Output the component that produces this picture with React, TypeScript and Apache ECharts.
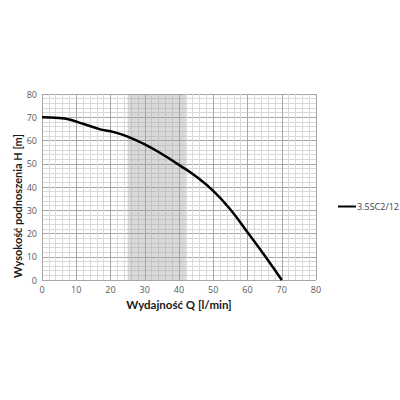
import { useEffect, useRef } from 'react'
import * as echarts from 'echarts'

// Pump curve
const flowQ = [0, 5, 8, 12, 17, 21, 25, 30, 35, 40, 45, 50, 55, 60, 65, 70]
const headH = [70, 69.7, 69, 67.2, 64.8, 63.6, 61.7, 58.3, 54.2, 49.5, 44.5, 38.3, 30.3, 20.5, 10.5, 0]
const bandQ = [25, 42]
const seriesName = '3.5SC2/12'
const yTitle = 'Wysokość podnoszenia H [m]'
const xTitle = 'Wydajność Q [l/min]'

export default function App() {
  const chartRef = useRef<HTMLDivElement>(null)

  useEffect(() => {
    document.body.style.margin = '0'
    if (!chartRef.current) return
    const chart = echarts.init(chartRef.current, null, { renderer: 'svg' })

    const axisCommon = {
      type: 'value' as const,
      interval: 10,
      axisLine: { show: false },
      axisTick: { show: false },
      axisLabel: { color: '#595959', fontSize: 9, fontFamily: 'Open Sans', margin: 5 },
      splitLine: { show: true, lineStyle: { color: '#a6a6a6', width: 1 } },
      minorTick: { show: false, splitNumber: 5 },
      minorSplitLine: { show: true, lineStyle: { color: '#d9d9d9', width: 1 } },
      nameLocation: 'middle' as const,
    }

    chart.setOption({
      animation: false,
      backgroundColor: '#ffffff',
      grid: { left: 42, top: 94, width: 274, height: 186, outerBoundsMode: 'none', containLabel: false },
      xAxis: {
        ...axisCommon,
        min: 0,
        max: 80,
        name: xTitle,
        nameGap: 18,
        nameTextStyle: { color: '#1a1a1a', fontWeight: 'bold', fontFamily: 'Lato', fontSize: 11.5 },
      },
      yAxis: { ...axisCommon, min: 0, max: 80 },
      // y title placed by hand: it sits lower than the plot's middle in the reference
      graphic: [
        {
          type: 'text',
          x: 17,
          y: 206,
          rotation: Math.PI / 2,
          style: {
            text: yTitle,
            fill: '#1a1a1a',
            fontWeight: 'bold',
            fontFamily: 'Lato',
            fontSize: 11,
            align: 'center',
            verticalAlign: 'middle',
          },
        },
      ],
      legend: {
        left: 333,
        top: 197,
        orient: 'vertical',
        icon: 'rect',
        itemWidth: 18,
        itemHeight: 2,
        itemGap: 4,
        textStyle: { color: '#404040', fontSize: 9, fontFamily: 'Open Sans', padding: [0, 0, 0, -4] },
        data: [seriesName],
      },
      series: [
        {
          name: seriesName,
          type: 'line',
          data: flowQ.map((q, i) => [q, headH[i]]),
          smooth: 0.5,
          showSymbol: false,
          lineStyle: { color: '#000000', width: 2.5 },
          itemStyle: { color: '#000000' },
          markArea: {
            silent: true,
            itemStyle: { color: 'rgba(160,160,160,0.4)' },
            data: [[{ xAxis: bandQ[0] }, { xAxis: bandQ[1] }]],
          },
        },
      ],
    })

    return () => chart.dispose()
  }, [])

  return <div ref={chartRef} style={{ width: 400, height: 400 }} />
}
